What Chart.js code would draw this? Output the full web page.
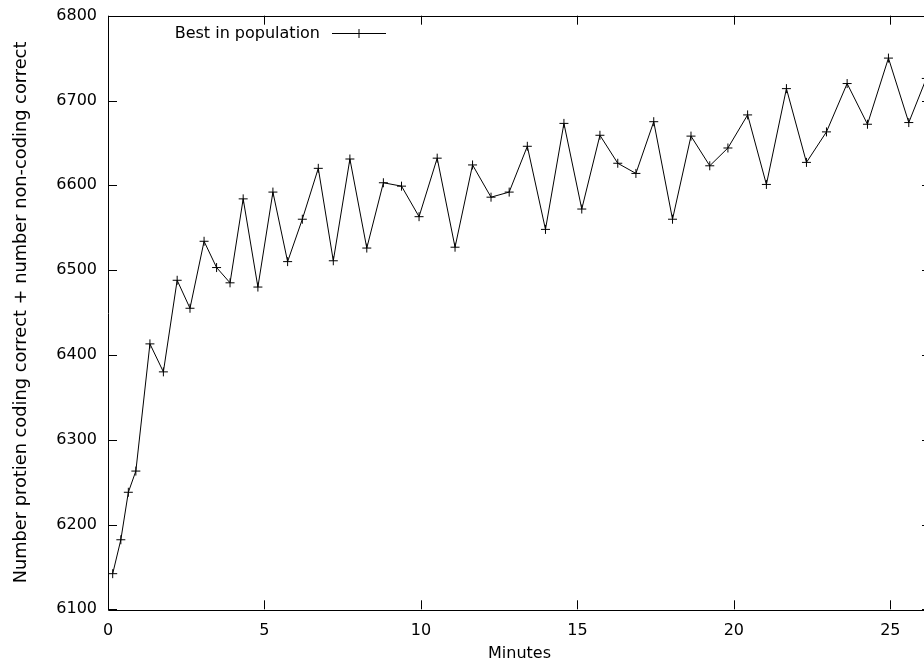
<!DOCTYPE html>
<html>
<head>
<meta charset="utf-8">
<script src="https://cdn.jsdelivr.net/npm/chart.js@4"></script>
<style>
html, body { margin: 0; padding: 0; background: #fff; overflow: hidden; }
#wrap { width: 940px; height: 664px; }
</style>
</head>
<body>
<div id="wrap"><canvas id="best-chart" width="940" height="664"></canvas></div>
<script>
// values
var minutes = [0.15, 0.41, 0.65, 0.89, 1.34, 1.77, 2.21, 2.62, 3.07, 3.47,
    3.90, 4.32, 4.79, 5.27, 5.74, 6.21, 6.72, 7.20, 7.73, 8.27,
    8.80, 9.38, 9.94, 10.52, 11.09, 11.65, 12.24, 12.82, 13.40, 13.98,
    14.57, 15.14, 15.72, 16.29, 16.87, 17.44, 18.04, 18.63, 19.23, 19.81,
    20.44, 21.04, 21.68, 22.32, 22.96, 23.62, 24.27, 24.94, 25.59, 26.15];
var bestScore = [6142, 6182, 6238, 6263, 6413, 6380, 6488, 6455, 6534, 6503,
    6485, 6584, 6480, 6592, 6510, 6560, 6620, 6511, 6631, 6526,
    6603, 6599, 6563, 6632, 6527, 6624, 6586, 6592, 6646, 6548,
    6673, 6572, 6659, 6626, 6614, 6675, 6560, 6658, 6623, 6644,
    6683, 6601, 6714, 6627, 6663, 6720, 6672, 6750, 6674, 6726];
var xTicks = [0, 5, 10, 15, 20, 25];
var yTicks = [6100, 6200, 6300, 6400, 6500, 6600, 6700, 6800];
var seriesName = 'Best in population';

var points = [];
for (var i = 0; i < minutes.length; i++) {
    points.push({x: minutes[i], y: bestScore[i]});
}

var font = {family: 'DejaVu Sans', size: 16};

// gnuplot style box with inward ticks on all four sides + key in top left
var framePlugin = {
    id: 'frame',
    afterDraw: function (chart) {
        var ctx = chart.ctx;
        var a = chart.chartArea;
        var sx = chart.scales.x, sy = chart.scales.y;
        var len = 9;
        ctx.save();
        ctx.strokeStyle = '#000';
        ctx.lineWidth = 1;
        ctx.beginPath();
        ctx.rect(Math.round(a.left) + 0.5, Math.round(a.top) + 0.5,
            Math.round(a.right - a.left), Math.round(a.bottom - a.top));
        xTicks.forEach(function (v) {
            var px = Math.round(sx.getPixelForValue(v)) + 0.5;
            ctx.moveTo(px, a.bottom); ctx.lineTo(px, a.bottom - len);
            ctx.moveTo(px, a.top); ctx.lineTo(px, a.top + len);
        });
        yTicks.forEach(function (v) {
            var py = Math.round(sy.getPixelForValue(v)) + 0.5;
            ctx.moveTo(a.left, py); ctx.lineTo(a.left + len, py);
            ctx.moveTo(a.right, py); ctx.lineTo(a.right - len, py);
        });
        ctx.stroke();

        // key
        var ky = 33.5;
        ctx.fillStyle = '#000';
        ctx.font = '16px "DejaVu Sans"';
        ctx.textAlign = 'right';
        ctx.textBaseline = 'middle';
        ctx.fillText(seriesName, 320, ky);
        ctx.beginPath();
        ctx.moveTo(332, ky); ctx.lineTo(386, ky);
        ctx.moveTo(354.5, ky); ctx.lineTo(363.5, ky);
        ctx.moveTo(359, ky - 4.5); ctx.lineTo(359, ky + 4.5);
        ctx.stroke();
        ctx.restore();
    }
};

var config = {
    type: 'line',
    data: {
        datasets: [{
            label: seriesName,
            data: points,
            borderColor: '#000',
            borderWidth: 1,
            backgroundColor: '#000',
            pointStyle: 'cross',
            pointRadius: 4.5,
            pointBorderColor: '#000',
            pointBorderWidth: 1,
            tension: 0,
            fill: false
        }]
    },
    options: {
        responsive: false,
        animation: false,
        devicePixelRatio: 1,
        layout: {padding: {top: 15.7, right: 9, left: 0, bottom: 0}},
        plugins: {
            legend: {display: false},
            tooltip: {enabled: false}
        },
        scales: {
            x: {
                type: 'linear',
                min: 0,
                max: 26.3,
                grid: {display: false, drawTicks: false},
                border: {display: false},
                afterBuildTicks: function (scale) {
                    scale.ticks = xTicks.map(function (v) { return {value: v}; });
                },
                afterFit: function (scale) {
                    scale.height = 54.7;
                    scale.paddingLeft = 0;
                    scale.paddingRight = 0;
                },
                ticks: {color: '#000', font: font, padding: 12, maxRotation: 0,
                    callback: function (v) { return v; }},
                title: {display: true, text: 'Minutes', color: '#000', font: font,
                    padding: {top: 0, bottom: 1}}
            },
            y: {
                min: 6100,
                max: 6800,
                grid: {display: false, drawTicks: false},
                border: {display: false},
                afterBuildTicks: function (scale) {
                    scale.ticks = yTicks.map(function (v) { return {value: v}; });
                },
                afterFit: function (scale) {
                    scale.width = 108;
                    scale.paddingTop = 0;
                    scale.paddingBottom = 0;
                },
                ticks: {color: '#000', font: font, padding: 11,
                    callback: function (v) { return v; }},
                title: {display: true, text: 'Number protien coding correct + number non-coding correct',
                    color: '#000', font: {family: 'DejaVu Sans', size: 17.8}, padding: {top: 11, bottom: 0}}
            }
        }
    },
    plugins: [framePlugin]
};

var ctx = document.getElementById('best-chart');
window.bestChart = new Chart(ctx, config);
</script>
</body>
</html>
